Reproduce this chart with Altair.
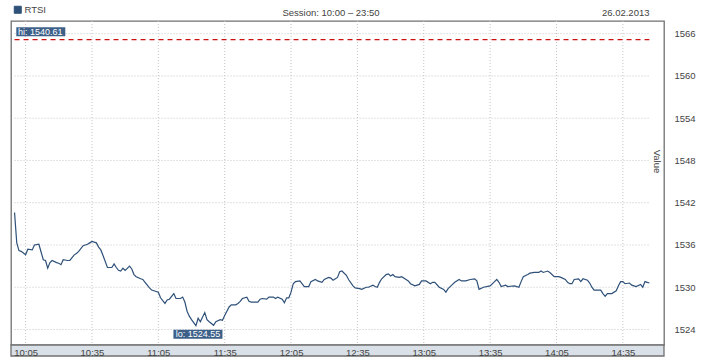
import altair as alt
import pandas as pd

# ---------------- data ----------------
series_name = "RTSI"
session_text = "Session: 10:00 \u2013 23:50"
date_text = "26.02.2013"
ref_level = 1565.15

times_am = ["10:00","10:01","10:02","10:03","10:05","10:06","10:08","10:09","10:11","10:12",
            "10:13","10:14","10:15","10:16","10:17","10:19","10:20","10:21","10:22","10:24",
            "10:25","10:27","10:28","10:29","10:31","10:33","10:34","10:35","10:37","10:38",
            "10:39","10:40","10:42","10:44","10:45","10:46","10:47","10:48","10:49","10:50",
            "10:52","10:53","10:54","10:55","10:57","10:58","10:59","11:01","11:02","11:03",
            "11:05","11:06","11:08","11:09","11:10","11:12","11:13","11:15","11:16","11:17",
            "11:18","11:19","11:20","11:22","11:23","11:24","11:26","11:27","11:28","11:30",
            "11:31","11:33","11:34","11:35","11:37","11:38","11:40","11:41","11:42","11:43",
            "11:45","11:46","11:47","11:50","11:51","11:52","11:54","11:55","11:57","11:58",
            "11:59","12:01","12:02","12:03","12:04"]
values_am = [1540.61,1536.3,1535.2,1535.1,1534.6,1535.4,1535.3,1536.0,1536.1,1535.0,
             1533.9,1533.8,1532.7,1533.5,1533.8,1533.5,1533.4,1533.2,1533.9,1533.8,
             1533.8,1534.6,1534.8,1535.1,1535.9,1536.1,1536.3,1536.5,1536.3,1535.7,
             1535.3,1534.5,1532.8,1532.8,1533.3,1532.8,1532.4,1532.3,1532.7,1532.4,
             1533.0,1532.6,1531.8,1531.5,1531.2,1531.1,1530.7,1529.9,1529.6,1529.5,
             1529.3,1528.5,1527.7,1528.2,1528.3,1529.1,1528.4,1528.4,1528.6,1527.9,
             1526.6,1525.9,1525.4,1524.55,1525.6,1525.1,1526.4,1525.4,1525.1,1524.6,
             1525.1,1525.4,1525.3,1526.0,1527.2,1527.5,1527.5,1527.7,1528.0,1528.4,
             1528.6,1528.0,1527.9,1527.9,1528.3,1528.4,1528.3,1528.6,1528.6,1528.4,
             1528.6,1528.3,1527.8,1528.5,1528.5]

times_pm = ["12:05","12:06","12:07","12:09","12:11","12:13","12:14","12:16","12:17","12:19",
            "12:20","12:22","12:23","12:24","12:26","12:27","12:28","12:30","12:31","12:33",
            "12:34","12:36","12:37","12:39","12:40","12:42","12:43","12:44","12:45","12:46",
            "12:48","12:49","12:50","12:51","12:52","12:54","12:55","12:57","12:58","12:59",
            "13:01","13:03","13:04","13:06","13:08","13:09","13:10","13:12","13:14","13:15",
            "13:16","13:18","13:19","13:21","13:22","13:24","13:26","13:28","13:29","13:30",
            "13:32","13:35","13:37","13:38","13:39","13:40","13:42","13:43","13:46","13:48",
            "13:49","13:50","13:52","13:53","13:55","13:57","13:58","13:59","14:01","14:02",
            "14:04","14:06","14:07","14:09","14:10","14:11","14:12","14:13","14:15","14:16",
            "14:17","14:19","14:20","14:21","14:22","14:25","14:26","14:27","14:28","14:30",
            "14:32","14:33","14:34","14:35","14:36","14:38","14:39","14:41","14:43","14:44",
            "14:45","14:46","14:47"]
values_pm = [1529.3,1530.5,1530.8,1530.9,1530.1,1530.1,1530.8,1531.1,1530.9,1530.7,
             1531.1,1531.4,1531.3,1531.0,1531.4,1532.2,1532.3,1531.7,1531.1,1530.2,
             1529.9,1529.8,1529.7,1530.0,1530.0,1530.3,1530.1,1530.0,1530.7,1531.2,
             1531.8,1531.9,1531.6,1531.8,1531.5,1531.4,1531.5,1531.1,1530.9,1530.5,
             1530.2,1530.4,1530.9,1530.9,1530.5,1530.7,1530.7,1530.0,1529.7,1529.3,
             1529.8,1530.4,1530.7,1531.1,1530.9,1530.9,1531.1,1531.2,1530.9,1529.7,
             1530.0,1530.2,1530.8,1531.1,1530.7,1530.1,1530.3,1530.1,1530.2,1530.0,
             1530.8,1531.5,1531.8,1532.0,1532.1,1532.1,1532.3,1532.1,1532.3,1532.1,
             1531.5,1531.5,1531.4,1531.1,1530.7,1530.5,1530.5,1531.1,1531.2,1530.8,
             1531.2,1531.0,1530.6,1530.0,1529.6,1529.6,1529.1,1528.7,1529.1,1529.1,
             1529.5,1530.2,1530.8,1530.8,1530.5,1530.6,1530.3,1530.1,1530.4,1530.0,
             1530.8,1530.7,1530.6]

x_tick_labels = ["10:05","10:35","11:05","11:35","12:05","12:35","13:05","13:35","14:05","14:35"]
y_ticks = [1524, 1530, 1536, 1542, 1548, 1554, 1560, 1566]

# ---------------- build tables ----------------
def to_min(s):
    h, m = s.split(":")
    return (int(h) - 10) * 60 + int(m)

times = times_am + times_pm
values = values_am + values_pm
df = pd.DataFrame({"t": [to_min(s) for s in times], "v": values, "series": series_name})

t0, t1 = df["t"].min(), df["t"].max()
i_hi, i_lo = df["v"].idxmax(), df["v"].idxmin()
hi_df = pd.DataFrame({"t": [df.loc[i_hi, "t"]], "v": [df.loc[i_hi, "v"]],
                      "label": ["hi: %.2f" % df.loc[i_hi, "v"]]})
lo_df = pd.DataFrame({"t": [df.loc[i_lo, "t"]], "v": [df.loc[i_lo, "v"]],
                      "label": ["lo: %.2f" % df.loc[i_lo, "v"]]})
xgrid_df = pd.DataFrame({"t": [to_min(s) for s in x_tick_labels]})
ygrid_df = pd.DataFrame({"v": y_ticks, "t": t0, "t2": t1})
ref_df = pd.DataFrame({"v": [ref_level], "t": [t0], "t2": [t1]})

W, H = 653, 324
FONT = "Liberation Sans"
TXT = "#444444"
FRAME = "#707070"
LINE = "#2e5079"
BOX = "#3d6089"

xs = alt.Scale(domain=[-1.6, 293.6], nice=False, zero=False)
ys = alt.Scale(domain=[1521.8, 1567.8], nice=False, zero=False)

label_expr = ("pad(toString(10 + floor(datum.value / 60)), 2, '0', 'left') + ':' + "
              "pad(toString(datum.value % 60), 2, '0', 'left')")

x_axis = alt.Axis(values=[to_min(s) for s in x_tick_labels], labelExpr=label_expr,
                  grid=False, domain=False, ticks=False, labelPadding=2,
                  labelFontSize=9.5, labelFont=FONT, labelColor=TXT, title=None,
                  zindex=2, labelFlush=False)
y_axis = alt.Axis(orient="right", values=y_ticks, grid=False, domain=False, ticks=False,
                  labelPadding=10, labelFontSize=9.5, labelFont=FONT, labelColor=TXT,
                  title="Value", titleFontSize=9.5, titleFont=FONT, titleColor=TXT,
                  titleFontWeight="normal", titleAngle=90, titleX=-8, titleY=140,
                  titleAlign="center", titleBaseline="middle", format="d")

X = lambda f: alt.X(f, scale=xs, axis=x_axis, title=None)
Y = lambda f: alt.Y(f, scale=ys, axis=y_axis, title="Value")

# x-axis band below the plot
band = alt.Chart(pd.DataFrame({"a": [0]})).mark_rect(
    fill="#d9e0e7", stroke=FRAME, strokeWidth=1.3
).encode(x=alt.value(0), x2=alt.value(W), y=alt.value(H), y2=alt.value(H + 11))

xgrid = alt.Chart(xgrid_df).mark_rule(color="#c4c4c4", strokeDash=[1, 2], strokeWidth=1).encode(
    x=X("t:Q")
)
ygrid = alt.Chart(ygrid_df).mark_rule(color="#c4c4c4", strokeDash=[1, 2], strokeWidth=1).encode(
    x=X("t:Q"), x2="t2:Q", y=Y("v:Q")
)
refline = alt.Chart(ref_df).mark_rule(color="#cc1111", strokeDash=[5, 4], strokeWidth=1.2).encode(
    x=X("t:Q"), x2="t2:Q", y=Y("v:Q")
)

line = alt.Chart(df).mark_line(strokeWidth=1.2, interpolate="linear").encode(
    x=X("t:Q"),
    y=Y("v:Q"),
    color=alt.Color("series:N", scale=alt.Scale(range=[LINE]),
                    legend=alt.Legend(title=None, orient="none", legendX=2, legendY=-16,
                                      symbolType="square", symbolSize=49,
                                      symbolFillColor=LINE, symbolStrokeColor="#8a8a8a",
                                      symbolStrokeWidth=1, labelFontSize=9.5, labelFont=FONT,
                                      labelColor=TXT, labelOffset=2, padding=0))
)

hi_box = alt.Chart(hi_df).mark_rect(fill=BOX).encode(
    x=alt.value(5.3), x2=alt.value(54.3), y=alt.value(6.3), y2=alt.value(15.3)
)
hi_text = alt.Chart(hi_df).mark_text(align="left", baseline="middle", color="white",
                                     fontSize=9, font=FONT).encode(
    x=alt.value(7), y=alt.value(11), text="label:N"
)
lo_box = alt.Chart(lo_df).mark_rect(fill=BOX, xOffset=-22.5, x2Offset=26.5,
                                    yOffset=4, y2Offset=13).encode(
    x=X("t:Q"), x2="t:Q", y=Y("v:Q"), y2="v:Q"
)
lo_text = alt.Chart(lo_df).mark_text(align="center", baseline="middle", color="white",
                                     fontSize=9, font=FONT, dx=2, dy=8.7).encode(
    x=X("t:Q"), y=Y("v:Q"), text="label:N"
)

hdr = pd.DataFrame({"a": [0]})
session = alt.Chart(hdr).mark_text(align="center", baseline="middle", fontSize=9.5, font=FONT,
                                   color=TXT, text=session_text).encode(
    x=alt.value(320), y=alt.value(-8.5))
date = alt.Chart(hdr).mark_text(align="right", baseline="middle", fontSize=9.5, font=FONT,
                                color=TXT, text=date_text).encode(
    x=alt.value(638.5), y=alt.value(-8.5))

chart = alt.layer(
    band, xgrid, ygrid, refline, line, hi_box, hi_text, lo_box, lo_text, session, date
).properties(
    width=W, height=H,
    padding={"left": 11, "top": 21, "right": 54, "bottom": 15},
    autosize=alt.AutoSizeParams(type="none"),
    background="white"
).configure_view(
    stroke=FRAME, strokeWidth=1.3
)

chart.save("out.html", embed_options={"renderer": "svg", "actions": False})
